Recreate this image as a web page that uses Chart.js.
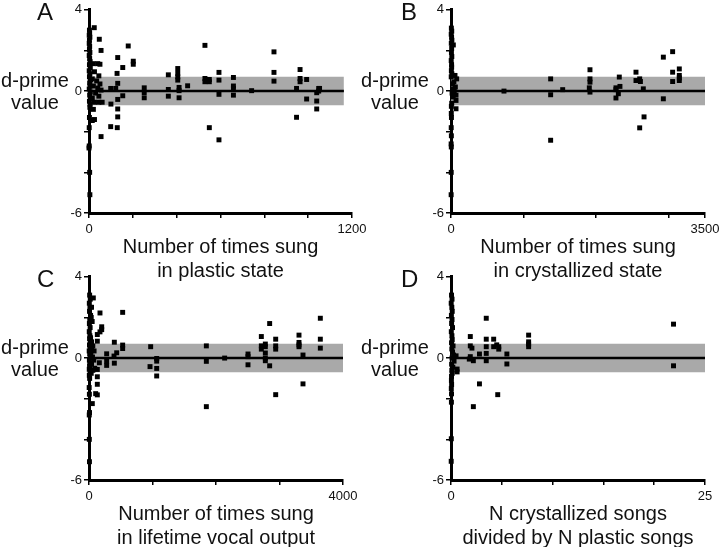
<!DOCTYPE html>
<html lang="en">
<head>
<meta charset="UTF-8">
<title>d-prime value vs number of times sung</title>
<script src="https://cdn.jsdelivr.net/npm/chart.js"></script>
<style>
    body { margin: 0; background: #fff; width: 720px; height: 547px; overflow: hidden; position: relative;
           font-family: "Liberation Sans", Arial, sans-serif; color: #111; }
    .panel { position: absolute; width: 380px; height: 290px; }
    .letter { position: absolute; font-size: 24px; line-height: 24px; }
    .ylab { position: absolute; width: 80px; font-size: 20px; line-height: 22px; text-align: center; }
</style>
</head>
<body>
<!-- four panels, each canvas overlaps its neighbour a bit so the end tick labels fit -->
<div class="panel" style="left:0;top:0"><canvas id="chartA"></canvas></div>
<div class="panel" style="left:360px;top:0"><canvas id="chartB"></canvas></div>
<div class="panel" style="left:0;top:267px"><canvas id="chartC"></canvas></div>
<div class="panel" style="left:360px;top:267px"><canvas id="chartD"></canvas></div>

<div class="letter" style="left:37px;top:0">A</div>
<div class="letter" style="left:401px;top:0">B</div>
<div class="letter" style="left:37px;top:267px">C</div>
<div class="letter" style="left:401px;top:267px">D</div>

<div class="ylab" style="left:-5px;top:69px">d-prime<br>value</div>
<div class="ylab" style="left:355px;top:69px">d-prime<br>value</div>
<div class="ylab" style="left:-5px;top:336px">d-prime<br>value</div>
<div class="ylab" style="left:355px;top:336px">d-prime<br>value</div>

<script>
    // ---- dados ----
    // A: número de vezes cantada no estado plástico
    const plasticX = [2, 3, 1, 4, 2, 1, 3, 2, 4, 1, 3, 5, 2, 6, 1, 4, 2, 7, 3, 5, 1, 6, 3, 8, 2, 5, 4, 2, 1, 1, 0, 3, 4,
        24, 47, 55, 20, 40, 50, 25, 45, 15, 35, 50, 20, 40, 55, 30, 45, 15, 25, 45, 60, 20, 25, 15,
        179, 131, 154, 202, 202, 128, 131, 99, 122, 100, 131, 154, 131, 131, 99, 129, 55,
        252, 252, 252, 362, 362, 362, 405, 405, 405, 405, 411, 411, 411, 450,
        529, 529, 529, 549, 549, 549, 593, 593, 593, 593, 659, 659, 659, 659, 742,
        844, 844, 844, 947, 947, 963, 963, 963, 993, 993, 1039, 1039, 1039, 1048, 1048, 1052];
    const plasticY = [3.0, 2.85, 2.75, 2.65, 2.5, 2.35, 2.2, 2.05, 1.9, 1.75, 1.6, 1.45, 1.3, 1.15, 1.0, 0.85, 0.7, 0.55, 0.4, 0.25, 0.1, -0.05, -0.2, -0.35, -0.5, -0.65, -0.8, -1.3, -1.8, -2.7, -2.8, -4.0, -5.1,
        3.12, 2.55, 2.0, 1.35, 1.35, 1.32, 0.95, 0.75, 0.6, 0.5, 0.35, 0.25, 0.15, 0.05, -0.1, -0.25, -0.35, -0.55, -0.55, -0.55, -0.9, -1.4, -1.45,
        2.22, 1.65, 1.16, 1.47, 1.32, 0.87, 0.38, 0.13, 0.13, -0.64, -0.41, -0.23, -0.88, -1.27, -1.75, -1.8, -2.24,
        0.16, -0.07, -0.33, 0.8, 0.08, -0.25, 1.11, 0.87, 0.7, 0.54, 0.18, 0.02, -0.33, 0.26,
        2.25, 0.62, 0.46, 0.57, 0.46, -1.8, 0.92, 0.54, -0.16, -2.4, 0.67, 0.25, 0.13, -0.2, 0.02,
        1.93, 0.92, 0.49, 0.13, -1.29, 1.06, 0.62, 0.46, 0.57, -0.39, -0.08, -0.49, -0.88, 0.13, 0.0, 0.13];

    // B: número de vezes cantada no estado cristalizado
    const crystX = [5, 10, 3, 8, 12, 4, 32, 9, 6, 11, 3, 8, 9, 5, 12, 3, 55, 78, 40, 20, 60, 25, 45, 15, 69, 30, 69, 10, 69, 5, 4, 6, 3, 5, 2, 4, 3, 2,
        730, 1373, 1373, 1373, 1539, 1915, 1915, 1915, 1906, 1915, 2273, 2273, 2273, 2306, 2319, 2328, 2549, 2549, 2600, 2610,
        2600, 2650, 2660, 2926, 2926, 3054, 3054, 3054, 3146, 3146, 3146, 3146];
    const crystY = [3.1, 2.95, 2.8, 2.65, 2.5, 2.35, 2.27, 2.1, 1.9, 1.7, 1.5, 1.3, 1.18, 1.0, 0.85, 0.7, 0.77, 0.6, 0.45, 0.36, 0.2, 0.11, 0.0, -0.1, -0.2, -0.29, -0.46, -0.6, -0.87, -0.75, -1.1, -1.3, -1.8, -2.2, -2.6, -2.75, -4.0, -5.1,
        0.0, 0.6, -0.18, -2.42, 0.07, 1.05, 0.6, 0.44, 0.16, -0.05, 0.16, 0.07, -0.34, -0.13, 0.69, 0.23, 0.93, 0.52, 0.6, 0.47,
        -1.81, 0.11, -1.27, 1.67, -0.38, 1.94, 0.93, 0.47, 1.09, 0.77, 0.65, 0.52];

    // C: número de vezes cantada no total da vida
    const lifeX = [10, 20, 5, 15, 8, 25, 12, 6, 18, 4, 14, 9, 22, 7, 16, 3, 11, 20, 6, 13, 9, 4, 17, 5, 10, 3, 6, 8, 4, 5, 7,
        68, 40, 50, 35, 25, 40, 60, 45, 80, 30, 55, 75, 40, 90, 60, 35,
        173, 530, 200, 200, 173, 131, 131, 399, 530, 530, 971, 436, 394, 278, 278, 278, 399, 163, 131, 131, 131, 105, 131, 52, 961, 1066, 1066, 1066, 1066,
        1848, 1848, 1848, 2136, 2504, 2504, 2504, 2714, 2714, 2714, 2777, 2777, 2777, 2777, 2777, 2845, 2845,
        2940, 2940, 2940, 2940, 3307, 3307, 3307, 3307, 3370, 3370, 3643, 3643, 3643];
    const lifeY = [3.1, 2.9, 2.7, 2.5, 2.3, 2.1, 1.9, 1.7, 1.5, 1.3, 1.1, 0.95, 0.8, 0.65, 0.5, 0.35, 0.2, 0.05, -0.1, -0.25, -0.4, -0.55, -0.7, -0.85, -1.0, -1.45, -1.78, -2.68, -2.8, -4.0, -5.1,
        2.96, 2.5, 1.8, 2.0, 1.0, 0.8, 0.6, 0.4, 0.35, 0.2, 0.05, -0.1, -0.3, -0.5, -0.6, -0.75,
        2.22, 2.25, 1.54, 1.4, 1.29, 1.16, 0.83, 0.78, 0.64, 0.47, 0.56, 0.26, 0.1, 0.21, -0.15, -0.36, -0.25, -0.23, -0.56, -0.92, -1.29, -1.75, -1.81, -2.24, -0.42, -0.02, -0.15, -0.51, -0.88,
        0.6, -0.16, -2.39, 0.0, 0.2, 0.07, -0.33, 1.06, 0.6, 0.44, 0.69, 0.56, 0.25, 0.0, -0.13, 1.7, -0.38,
        0.93, 0.6, 0.44, -1.8, 1.13, 0.77, 0.65, 0.56, 0.15, -1.27, 1.96, 0.93, 0.49];

    // D: N cristalizadas / N plásticas
    const ratioX = [0.05, 0.1, 0.02, 0.08, 0.12, 0.04, 0.1, 0.06, 0.15, 0.03, 0.09, 0.12, 0.05, 0.2, 0.08, 0.15, 0.25, 0.1, 0.3, 0.06, 0.18, 0.08, 0.12, 0.05, 0.04, 0.06, 0.03, 0.05, 0.04, 0.03, 0.02,
        0.5, 0.6, 0.6, 1.9, 1.9, 2.06, 1.9, 1.8, 2.2, 2.8, 3.47, 3.47, 3.47, 3.47, 3.47, 4.2, 4.2, 4.5, 4.7, 4.7,
        5.5, 5.5, 2.8, 2.2, 4.6, 7.64, 7.64, 7.64, 7.64, 21.9, 21.9];
    const ratioY = [3.1, 2.9, 2.7, 2.5, 2.3, 2.1, 1.9, 1.7, 1.5, 1.3, 1.1, 0.9, 0.75, 0.6, 0.45, 0.3, 0.15, 0.0, -0.15, -0.3, -0.45, -0.6, -0.75, -0.9, -1.1, -1.3, -1.5, -1.76, -2.17, -3.97, -5.08,
        0.11, -0.54, -0.68, 1.06, 0.6, 0.49, 0.07, -0.05, -0.13, 0.2, 1.96, 0.93, 0.56, 0.23, -0.13, 0.93, 0.56, 0.65, 0.44, 0.56,
        0.2, -0.29, -1.27, -2.39, -1.8, 1.13, 0.8, 0.69, 0.56, 1.67, -0.38];

    // faixa cinza e eixos
    const bandHigh = 0.7;
    const bandLow = -0.7;
    const yTicks = [-6, -4, -2, 0, 2, 4];
    const yTickLabels = [-6, 0, 4];
    const xTicksA = [0, 200, 400, 600, 800, 1000, 1200];
    const xTicksB = [0, 1000, 2000, 3000, 3500];
    const xTicksC = [0, 1000, 2000, 3000, 4000];
    const xTicksD = [0, 5, 10, 15, 20, 25];

    Chart.defaults.font.family = '"Liberation Sans", Arial, sans-serif';
    Chart.defaults.color = '#111';

    function juntar(xs, ys) {
        return xs.map((x, i) => ({ x: x, y: ys[i] }));
    }

    function desenharPainel(id, pontos, xTicks, fimFaixa, titulo, larguraY, padDireita) {
        const xMax = xTicks[xTicks.length - 1];
        const rotulosX = [0, xMax];
        new Chart(document.getElementById(id), {
            type: 'scatter',
            data: {
                datasets: [
                    { data: pontos, pointStyle: 'rect', pointRadius: 3.5, pointBackgroundColor: '#000',
                      pointBorderWidth: 0, clip: false, order: 1 },
                    // linha do zero
                    { data: [{ x: 0, y: 0 }, { x: fimFaixa, y: 0 }], showLine: true, borderColor: '#000',
                      borderWidth: 2.5, pointRadius: 0, order: 2 },
                    // faixa cinza
                    { data: [{ x: 0, y: bandHigh }, { x: fimFaixa, y: bandHigh }], showLine: true, borderWidth: 0,
                      pointRadius: 0, fill: { value: bandLow }, backgroundColor: '#a9a9a9', order: 3 }
                ]
            },
            options: {
                responsive: true,
                maintainAspectRatio: false,
                animation: false,
                layout: { padding: { left: 0, top: 9, right: padDireita, bottom: 0 } },
                plugins: { legend: { display: false }, tooltip: { enabled: false } },
                scales: {
                    x: {
                        type: 'linear', min: 0, max: xMax, z: 1,
                        afterBuildTicks: s => { s.ticks = xTicks.map(v => ({ value: v })); },
                        afterFit: s => { s.height = 77; },
                        ticks: { callback: v => rotulosX.includes(v) ? String(v) : '', maxRotation: 0,
                                 autoSkip: false, padding: 4, font: { size: 13 } },
                        grid: { drawOnChartArea: false, color: '#000', tickLength: 5, lineWidth: 1.5 },
                        border: { color: '#000', width: 3 },
                        title: { display: true, text: titulo, font: { size: 20 }, padding: { top: 0, bottom: 7 } }
                    },
                    y: {
                        min: -6, max: 4, z: 1,
                        afterBuildTicks: s => { s.ticks = yTicks.map(v => ({ value: v })); },
                        afterFit: s => { s.width = larguraY; },
                        ticks: { callback: v => yTickLabels.includes(v) ? String(v) : '', padding: 2,
                                 autoSkip: false, font: { size: 13 } },
                        grid: { drawOnChartArea: false, color: '#000', tickLength: 5, lineWidth: 1.5 },
                        border: { color: '#000', width: 3 }
                    }
                }
            }
        });
    }

    desenharPainel('chartA', juntar(plasticX, plasticY), xTicksA, 1163,
        ['Number of times sung', 'in plastic state'], 89, 28);
    desenharPainel('chartB', juntar(crystX, crystY), xTicksB, 3500,
        ['Number of times sung', 'in crystallized state'], 91, 35);
    desenharPainel('chartC', juntar(lifeX, lifeY), xTicksC, 4000,
        ['Number of times sung', 'in lifetime vocal output'], 89, 37);
    desenharPainel('chartD', juntar(ratioX, ratioY), xTicksD, 25,
        ['N crystallized songs', 'divided by N plastic songs'], 91, 35);
</script>
</body>
</html>
